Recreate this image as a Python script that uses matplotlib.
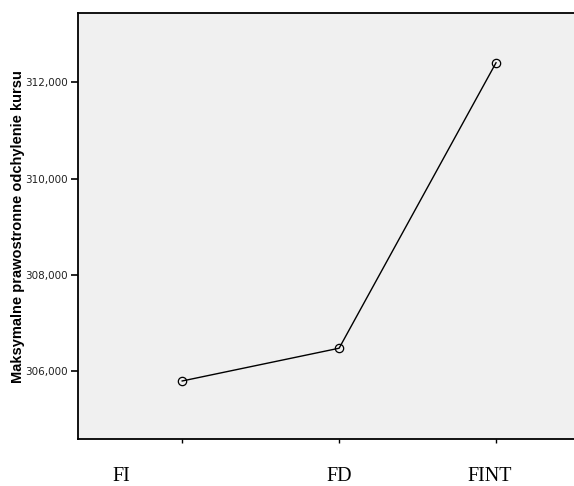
import matplotlib
matplotlib.use("Agg")
import matplotlib.pyplot as plt
from matplotlib.ticker import FuncFormatter
import matplotlib.transforms as mtransforms

categories = ["FI", "FD", "FINT"]
values = [305785, 306467, 312410]
yticks = [306000, 308000, 310000, 312000]

W, H = 574, 486
fig = plt.figure(figsize=(W / 100, H / 100), dpi=100)
ax = fig.add_axes([78 / W, (H - 439) / H, 1 - 78 / W, (439 - 13) / H])
ax.set_facecolor("#f0f0f0")

x = list(range(len(categories)))
ax.plot(x, values, color="black", linewidth=1.0, marker="o", markersize=6,
        markerfacecolor="none", markeredgecolor="black", markeredgewidth=0.9)

ax.set_xlim(-0.664, 2.497)
ax.set_ylim(304577, 313446)

ax.set_yticks(yticks)
ax.yaxis.set_major_formatter(FuncFormatter(lambda v, p: f"{int(round(v)):,}"))
ax.tick_params(axis="y", direction="out", length=5, width=1.2, pad=2,
               labelsize=7.5, colors="black", labelcolor="#222222")

ax.set_xticks(x)
ax.set_xticklabels(categories, fontfamily="Liberation Serif", fontsize=14.5)
ax.tick_params(axis="x", direction="out", length=3, width=1.0, pad=17)

# SPSS-style label offsets (pixels)
offsets = [-61, 0, -6]
for lbl, dx in zip(ax.get_xticklabels(), offsets):
    lbl.set_transform(lbl.get_transform() +
                      mtransforms.ScaledTranslation(dx / 100, 0, fig.dpi_scale_trans))

for s in ["left", "bottom", "top"]:
    ax.spines[s].set_color("black")
    ax.spines[s].set_linewidth(1.3)
ax.spines["right"].set_visible(False)

fig.text(18.5 / W, 1 - 226.5 / H, "Maksymalne prawostronne odchylenie kursu",
         rotation=90, ha="center", va="center", fontsize=10.5,
         fontweight="bold", fontfamily="Liberation Sans")

fig.savefig("out.png", dpi=100)
